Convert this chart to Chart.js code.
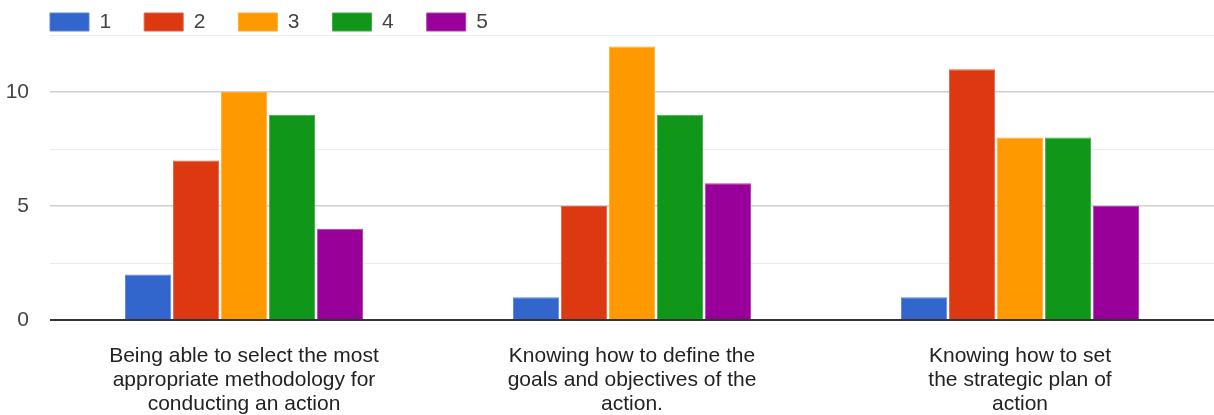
<!DOCTYPE html>
<html>
<head>
<meta charset="utf-8">
<script src="https://cdn.jsdelivr.net/npm/chart.js"></script>
<style>
  html, body { margin: 0; padding: 0; background: #fff; }
  #wrap { width: 1214px; height: 415px; position: relative; }
</style>
</head>
<body>
<div id="wrap"><canvas id="chart"></canvas></div>
<script>
// categories (multi-line labels)
const categories = [
  ['Being able to select the most', 'appropriate methodology for', 'conducting an action'],
  ['Knowing how to define the', 'goals and objectives of the', 'action.'],
  ['Knowing how to set', 'the strategic plan of', 'action']
];
const seriesNames = ['1', '2', '3', '4', '5'];
const seriesColors = ['#3366cc', '#dc3912', '#ff9900', '#109618', '#990099'];
const seriesEdges = ['#5c85d6', '#e36141', '#ffad33', '#40ab46', '#ad40ad'];

// counts per rating, one value per category
const rating1 = [2, 1, 1];
const rating2 = [7, 5, 11];
const rating3 = [10, 12, 8];
const rating4 = [9, 9, 8];
const rating5 = [4, 6, 5];
const ratings = [rating1, rating2, rating3, rating4, rating5];

const yMax = 12.5;
const yStep = 2.5;
const yLabelled = [0, 5, 10];

const font = "Arial, 'Liberation Sans', sans-serif";

// move legend so it sits above the plot like the Google Forms chart
const legendShift = {
  id: 'legendShift',
  afterLayout(chart) {
    chart.legend.left = 17;
    chart.legend.top = -21.5;
  }
};

new Chart(document.getElementById('chart'), {
  type: 'bar',
  data: {
    labels: categories,
    datasets: ratings.map((r, i) => ({
      label: seriesNames[i],
      data: r,
      backgroundColor: seriesColors[i],
      borderColor: seriesEdges[i],
      borderWidth: 1,
      categoryPercentage: 0.618,
      barPercentage: 0.965
    }))
  },
  options: {
    responsive: true,
    maintainAspectRatio: false,
    animation: false,
    layout: { padding: 0 },
    plugins: {
      legend: {
        position: 'top',
        align: 'start',
        maxHeight: 35,
        labels: {
          boxWidth: 39,
          boxHeight: 18,
          padding: 33,
          color: '#444',
          font: { family: font, size: 21 }
        }
      },
      tooltip: { enabled: false }
    },
    scales: {
      x: {
        grid: { display: false },
        border: { display: false },
        ticks: {
          padding: 16,
          color: '#222',
          maxRotation: 0,
          autoSkip: false,
          font: { family: font, size: 21, lineHeight: 1.15 }
        },
        afterFit(scale) { scale.height = 95; }
      },
      y: {
        min: 0,
        max: yMax,
        border: { display: false },
        grid: {
          drawTicks: false,
          color: ctx => ctx.tick.value === 0 ? '#333' : (yLabelled.includes(ctx.tick.value) ? '#cfcfcf' : '#ebebeb'),
          lineWidth: ctx => ctx.tick.value === 0 ? 2 : (yLabelled.includes(ctx.tick.value) ? 1.5 : 1)
        },
        ticks: {
          stepSize: yStep,
          padding: 21,
          color: '#444',
          font: { family: font, size: 21 },
          callback: v => yLabelled.includes(v) ? String(v) : ''
        },
        afterFit(scale) { scale.width = 50; }
      }
    }
  },
  plugins: [legendShift]
});
</script>
</body>
</html>
